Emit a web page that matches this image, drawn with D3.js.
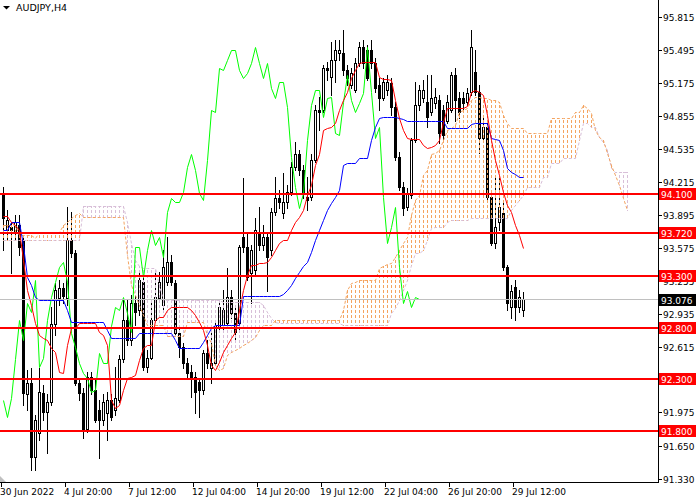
<!DOCTYPE html>
<html>
<head>
<meta charset="utf-8">
<script src="https://cdn.jsdelivr.net/npm/d3@7"></script>
<style>
body { margin: 0; background: #fff; }
svg { display: block; }
.lbl { font: 9px 'DejaVu Sans', sans-serif; }
</style>
</head>
<body>
<svg id="chart" width="700" height="500"></svg>
<script>

// AUDJPY H4 candles, one entry per bar
var open = [94.11,93.75,93.78,93.72,93.80,93.65,92.15,92.26,91.54,91.78,
  92.16,91.98,92.08,92.83,93.09,93.18,93.09,93.65,93.52,92.26,
  92.16,91.81,92.32,92.19,92.00,91.90,91.97,92.10,92.00,92.10,
  92.49,92.87,92.68,93.04,92.97,93.24,92.42,92.50,92.87,93.09,
  93.02,93.24,93.44,93.23,92.75,92.61,92.46,92.37,92.32,92.27,
  92.19,92.55,92.41,92.46,92.81,92.82,92.84,93.10,92.94,92.84,
  93.68,93.58,93.33,93.36,93.73,93.60,93.68,93.55,93.92,94.06,
  93.91,94.02,94.12,94.36,94.48,94.33,94.07,94.07,94.43,94.91,
  94.91,95.32,95.23,95.40,95.47,95.47,95.30,95.15,95.11,95.37,
  95.52,95.49,95.49,95.37,95.15,95.03,95.11,95.17,94.94,94.46,
  94.16,93.97,94.09,94.62,94.96,95.03,94.99,94.89,94.98,95.01,
  94.91,94.81,94.91,95.25,95.03,95.03,94.99,95.09,95.28,95.09,
  94.64,94.75,94.07,93.62,93.82,93.91,93.39,93.00,93.19,93.00,
  92.97];
var high = [94.16,93.94,93.82,93.89,93.89,93.68,92.39,92.41,91.95,92.41,
  92.24,92.15,93.00,93.23,93.26,93.23,93.97,93.92,93.55,92.31,
  92.21,92.37,92.37,92.31,92.10,92.15,92.17,92.15,92.42,92.53,
  93.07,93.07,93.12,93.12,93.34,93.31,92.58,93.07,93.36,93.34,
  93.55,93.68,93.50,93.26,92.81,92.65,92.50,92.44,92.37,92.31,
  92.58,92.68,92.78,92.87,93.07,93.16,93.38,93.16,92.99,93.60,
  94.25,93.73,93.60,93.86,93.97,93.80,93.73,93.96,94.26,94.14,
  94.30,94.18,94.41,94.60,94.52,94.38,94.26,94.48,94.96,95.04,
  95.35,95.38,95.57,95.59,95.59,95.69,95.35,95.32,95.42,95.57,
  95.59,95.54,95.59,95.42,95.22,95.22,95.25,95.22,94.99,94.50,
  94.21,94.15,94.64,95.18,95.15,95.20,95.25,95.25,95.13,95.06,
  94.96,95.06,95.28,95.32,95.09,95.09,95.13,95.69,95.49,95.15,
  94.83,94.81,94.12,94.26,94.26,94.04,93.41,93.21,93.26,93.16,
  93.14];
var low = [93.55,93.65,93.33,93.65,93.50,92.05,92.00,91.42,91.42,91.71,
  91.90,91.58,92.05,92.73,93.02,93.04,93.02,93.48,92.24,92.10,
  91.73,91.79,92.15,91.88,91.53,91.85,91.71,91.90,91.95,92.08,
  92.47,92.63,92.63,92.82,92.92,92.39,92.37,92.49,92.85,93.07,
  92.97,93.21,93.21,92.73,92.51,92.41,92.31,92.13,91.97,91.93,
  92.15,92.41,92.26,92.44,92.78,92.78,92.82,92.89,92.68,92.78,
  93.53,93.26,93.04,93.31,93.55,93.55,93.15,93.50,93.89,93.96,
  93.86,93.96,94.09,94.33,94.28,94.06,93.94,94.04,94.41,94.72,
  94.89,95.20,95.06,95.18,95.40,95.25,95.15,95.13,95.09,95.34,
  95.32,95.20,95.32,95.09,94.91,95.01,95.06,94.86,94.43,94.14,
  93.89,93.94,94.06,94.60,94.91,94.99,94.75,94.86,94.93,94.59,
  94.62,94.79,94.89,94.81,94.83,94.91,94.96,95.06,95.06,94.49,
  94.60,94.04,93.60,93.57,93.75,93.36,92.97,92.89,92.87,92.95,
  92.91];
var close = [93.86,93.84,93.75,93.82,93.58,92.16,92.26,91.54,91.90,92.17,
  91.98,92.08,92.83,93.16,93.18,93.11,93.65,93.52,92.26,92.16,
  91.81,92.32,92.19,91.90,91.90,92.08,92.10,91.93,92.12,92.49,
  92.87,92.68,93.04,92.95,93.26,92.42,92.50,92.87,93.10,93.24,
  93.39,93.44,93.24,92.75,92.61,92.46,92.36,92.31,92.17,92.19,
  92.55,92.46,92.46,92.81,93.00,92.97,93.10,92.94,92.76,93.58,
  93.58,93.29,93.55,93.75,93.60,93.68,93.48,93.92,94.06,94.02,
  94.02,94.12,94.36,94.48,94.33,94.11,94.04,94.43,94.91,94.89,
  95.32,95.30,95.40,95.49,95.49,95.30,95.22,95.27,95.37,95.52,
  95.37,95.22,95.37,95.13,95.03,95.18,95.18,94.94,94.46,94.16,
  93.96,94.11,94.62,94.96,95.11,95.11,94.84,95.03,95.04,94.69,
  94.67,94.99,95.25,95.01,94.89,94.98,95.08,95.52,95.09,94.64,
  94.75,94.07,93.62,93.78,93.97,93.39,93.04,93.15,93.00,93.10,
  93.076];

// Ichimoku lines
var tenkan = [93.88,93.88,93.82,93.80,93.75,93.46,93.16,93.02,92.84,92.73,
  92.70,92.68,92.60,92.56,92.37,92.36,92.63,92.80,92.80,92.84,
  92.84,92.84,92.84,92.84,92.76,92.73,92.63,92.10,92.02,92.05,
  92.19,92.31,92.32,92.34,92.48,92.60,92.63,92.63,92.87,92.90,
  92.90,92.97,93.00,93.00,93.00,93.00,93.00,92.97,92.92,92.85,
  92.78,92.63,92.44,92.39,92.47,92.56,92.63,92.70,92.76,92.97,
  93.16,93.31,93.41,93.41,93.43,93.43,93.44,93.48,93.55,93.62,
  93.65,93.65,93.75,93.82,93.87,93.94,94.09,94.18,94.38,94.48,
  94.72,94.74,94.75,94.79,94.91,95.01,95.09,95.22,95.30,95.37,
  95.38,95.38,95.38,95.38,95.23,95.21,95.21,95.20,95.01,94.83,
  94.72,94.64,94.63,94.63,94.63,94.57,94.54,94.55,94.57,94.62,
  94.80,94.93,94.93,94.93,94.93,94.93,94.95,95.09,95.11,95.09,
  95.06,94.86,94.62,94.43,94.28,94.12,93.99,93.92,93.80,93.70,
  93.57];
var kijun = [93.75,93.75,93.82,93.82,93.82,93.60,93.29,93.21,93.10,93.07,
  93.07,93.07,93.07,93.07,93.07,93.07,92.97,92.85,92.85,92.85,
  92.85,92.85,92.85,92.85,92.85,92.85,92.78,92.70,92.70,92.70,
  92.70,92.70,92.70,92.70,92.75,92.75,92.75,92.75,92.75,92.75,
  92.75,92.75,92.75,92.68,92.60,92.60,92.60,92.60,92.60,92.60,
  92.66,92.73,92.80,92.82,92.82,92.82,92.82,92.82,92.82,92.82,
  93.11,93.11,93.11,93.11,93.11,93.11,93.11,93.11,93.11,93.11,
  93.13,93.16,93.21,93.28,93.34,93.40,93.44,93.53,93.65,93.75,
  93.84,93.94,94.01,94.07,94.14,94.38,94.40,94.40,94.40,94.45,
  94.45,94.45,94.62,94.75,94.83,94.84,94.84,94.84,94.84,94.83,
  94.82,94.81,94.81,94.81,94.81,94.81,94.81,94.81,94.81,94.81,
  94.81,94.74,94.74,94.74,94.74,94.74,94.74,94.78,94.79,94.79,
  94.79,94.79,94.64,94.63,94.62,94.52,94.35,94.31,94.29,94.26,
  94.26];
// cloud, already shifted 26 bars forward (157 positions)
var spanA = [93.80,93.80,93.80,93.80,93.70,93.70,93.70,93.70,93.67,93.73,
  93.73,93.73,93.73,93.73,93.73,93.80,93.82,93.86,93.89,93.91,
  93.87,93.87,93.87,93.87,93.87,93.87,93.87,93.87,93.87,93.87,
  93.87,93.50,93.21,93.12,93.02,92.92,92.82,92.82,92.82,92.82,
  92.82,92.72,92.72,92.72,92.72,92.72,92.85,92.85,92.85,92.85,
  92.85,92.73,92.65,92.44,92.39,92.41,92.53,92.56,92.58,92.60,
  92.63,92.65,92.68,92.71,92.78,92.82,92.82,92.82,92.87,92.87,
  92.87,92.87,92.87,92.87,92.87,92.87,92.87,92.87,92.87,92.87,
  92.87,92.87,92.87,92.87,92.87,92.97,93.16,93.23,93.24,93.26,
  93.26,93.26,93.26,93.26,93.38,93.40,93.42,93.43,93.48,93.55,
  93.62,93.68,93.89,94.04,94.09,94.28,94.33,94.48,94.49,94.52,
  94.62,94.72,94.74,94.77,94.89,94.91,94.93,95.01,95.04,95.04,
  95.03,95.03,95.01,95.01,94.99,94.86,94.79,94.74,94.74,94.74,
  94.74,94.69,94.69,94.69,94.69,94.69,94.69,94.83,94.83,94.83,
  94.83,94.83,94.83,94.89,94.89,94.96,94.93,94.88,94.72,94.65,
  94.62,94.49,94.38,94.28,94.18,94.06,93.94];
var spanB = [93.65,93.65,93.65,93.65,93.65,93.65,93.65,93.65,93.65,93.65,
  93.65,93.65,93.65,93.65,93.65,93.65,93.65,93.65,93.65,93.65,
  93.98,93.98,93.98,93.98,93.98,93.98,93.98,93.98,93.98,93.98,
  93.98,93.82,93.62,93.46,93.40,93.38,93.38,93.38,93.38,93.21,
  93.07,93.07,93.07,93.07,93.07,93.07,93.07,93.07,93.07,93.07,
  93.07,93.07,93.07,93.07,93.07,93.05,93.05,93.05,93.05,93.05,
  93.05,93.05,93.05,93.05,93.05,93.02,92.95,92.89,92.85,92.84,
  92.84,92.84,92.84,92.84,92.84,92.84,92.84,92.84,92.84,92.84,
  92.84,92.84,92.84,92.84,92.84,92.82,92.82,92.82,92.82,92.82,
  92.82,92.82,92.82,92.82,92.82,92.82,92.82,92.94,92.99,93.07,
  93.16,93.26,93.41,93.52,93.52,93.55,93.65,93.77,93.78,93.78,
  93.78,93.82,93.84,93.84,93.84,93.84,93.84,93.86,93.86,93.86,
  93.86,93.86,93.86,93.86,93.86,93.86,93.86,93.94,93.99,94.04,
  94.09,94.16,94.16,94.16,94.16,94.26,94.26,94.40,94.40,94.40,
  94.45,94.45,94.45,94.45,94.62,94.79,94.79,94.75,94.75,94.65,
  94.60,94.52,94.35,94.31,94.31,94.31,94.31];
var chikouShift = 26;

var symbol = "AUDJPY,H4";
var levels = [94.10, 93.72, 93.30, 92.80, 92.30, 91.80];
var lastPrice = 93.076;
var priceTicks = [95.815, 95.495, 95.175, 94.855, 94.535, 94.215, 93.895, 93.575,
  93.255, 92.935, 92.615, 91.975, 91.650, 91.330];
var timeBars = [0, 16, 32, 48, 64, 80, 96, 112, 128];
var timeLabels = ["30 Jun 2022", "4 Jul 20:00", "7 Jul 12:00", "12 Jul 04:00",
  "14 Jul 20:00", "19 Jul 12:00", "22 Jul 04:00", "26 Jul 20:00", "29 Jul 12:00"];

var W = 658, H = 482;
var svg = d3.select("#chart");

// 4px per bar, bar centre = band start + 2
var x = d3.scaleBand().domain(d3.range(165)).range([1, 661]);
function cx(i) { return x(i) + x.bandwidth() / 2; }
var y = d3.scaleLinear().domain([91.30, 95.98]).range([H, 0]);
function py(v) { return Math.round(y(v)) + 0.5; }

svg.append("rect").attr("width", 700).attr("height", 500).attr("fill", "#fff");
svg.append("clipPath").attr("id", "clip")
  .append("rect").attr("width", W).attr("height", H);

var g = svg.append("g").attr("clip-path", "url(#clip)");

// candles
var bars = d3.range(close.length);
g.selectAll(".wick").data(bars).enter().append("line")
  .attr("x1", function(i) { return cx(i) + 0.5; })
  .attr("x2", function(i) { return cx(i) + 0.5; })
  .attr("y1", function(i) { return Math.round(y(high[i])); })
  .attr("y2", function(i) { return Math.round(y(low[i])) + 1; })
  .attr("stroke", "#000")
  .attr("shape-rendering", "crispEdges");
g.selectAll(".body").data(bars).enter().append("rect")
  .attr("x", function(i) { return cx(i) - 0.5; })
  .attr("width", 2)
  .attr("y", function(i) { return Math.round(y(Math.max(open[i], close[i]))) + 0.5; })
  .attr("height", function(i) {
    return Math.max(1, Math.round(y(Math.min(open[i], close[i]))) - Math.round(y(Math.max(open[i], close[i]))));
  })
  .attr("fill", function(i) { return close[i] >= open[i] ? "#fff" : "#000"; })
  .attr("stroke", "#000")
  .attr("shape-rendering", "crispEdges");

// kumo hatching, dashes aligned to the pixel grid
var cloud = d3.range(spanA.length);
g.selectAll(".hatch").data(cloud).enter().append("line")
  .attr("x1", function(j) { return cx(j) + 0.5; })
  .attr("x2", function(j) { return cx(j) + 0.5; })
  .attr("y1", function(j) { return Math.round(y(Math.max(spanA[j], spanB[j]))); })
  .attr("y2", function(j) { return Math.round(y(Math.min(spanA[j], spanB[j]))) + 1; })
  .attr("stroke", function(j) { return spanA[j] >= spanB[j] ? "#F4A460" : "#D8BFD8"; })
  .attr("stroke-dasharray", "3,2")
  .attr("stroke-dashoffset", function(j) { return Math.round(y(Math.max(spanA[j], spanB[j]))) % 5; })
  .attr("shape-rendering", "crispEdges");

var line = d3.line()
  .x(function(d, j) { return cx(j) + 0.5; })
  .y(function(d) { return py(d); });

g.append("path").attr("d", line(spanB)).attr("fill", "none")
  .attr("stroke", "#D8BFD8").attr("stroke-dasharray", "3,2");
g.append("path").attr("d", line(spanA)).attr("fill", "none")
  .attr("stroke", "#F4A460").attr("stroke-dasharray", "3,2");

// chikou: closes drawn 26 bars back
var chikou = close.slice(chikouShift);
g.append("path").attr("d", line(chikou)).attr("fill", "none").attr("stroke", "#00FF00");
g.append("path").attr("d", line(kijun)).attr("fill", "none").attr("stroke", "#0000FF");
g.append("path").attr("d", line(tenkan)).attr("fill", "none").attr("stroke", "#FF0000");

// bid line
svg.append("line").attr("x1", 0).attr("x2", W)
  .attr("y1", py(lastPrice)).attr("y2", py(lastPrice))
  .attr("stroke", "#C0C0C0");

// horizontal levels
svg.selectAll(".level").data(levels).enter().append("line")
  .attr("x1", 0).attr("x2", W)
  .attr("y1", function(d) { return Math.round(y(d)); })
  .attr("y2", function(d) { return Math.round(y(d)); })
  .attr("stroke", "#FF0000").attr("stroke-width", 2);

// axes
svg.append("line").attr("x1", W + 0.5).attr("x2", W + 0.5).attr("y1", 0).attr("y2", H + 1)
  .attr("stroke", "#000");
svg.append("line").attr("x1", 0).attr("x2", W + 1).attr("y1", H + 0.5).attr("y2", H + 0.5)
  .attr("stroke", "#000");

svg.selectAll(".ptick").data(priceTicks).enter().append("line")
  .attr("x1", W).attr("x2", W + 4)
  .attr("y1", function(d) { return py(d); }).attr("y2", function(d) { return py(d); })
  .attr("stroke", "#000");
svg.selectAll(".plabel").data(priceTicks).enter().append("text")
  .attr("class", "lbl")
  .attr("x", W + 5).attr("y", function(d) { return Math.round(y(d)) + 3.5; })
  .text(function(d) { return d.toFixed(3); });

svg.selectAll(".ttick").data(timeBars).enter().append("line")
  .attr("x1", function(d) { return x(d) + 0.5; }).attr("x2", function(d) { return x(d) + 0.5; })
  .attr("y1", H).attr("y2", H + 5)
  .attr("stroke", "#000");
svg.selectAll(".tlabel").data(timeBars).enter().append("text")
  .attr("class", "lbl")
  .attr("x", function(d) { return x(d) - 1; }).attr("y", 495)
  .text(function(d, k) { return timeLabels[k]; });

// level tags on price scale
var tags = svg.selectAll(".tag").data(levels).enter().append("g");
tags.append("rect")
  .attr("x", W + 1).attr("width", 37)
  .attr("y", function(d) { return Math.round(y(d)) - 6; }).attr("height", 12)
  .attr("fill", "#FF0000");
tags.append("text").attr("class", "lbl").attr("fill", "#fff")
  .attr("x", W + 3).attr("y", function(d) { return Math.round(y(d)) + 3.5; })
  .text(function(d) { return d.toFixed(3); });

svg.append("rect").attr("x", W + 1).attr("width", 37)
  .attr("y", Math.round(y(lastPrice)) - 5).attr("height", 12).attr("fill", "#000");
svg.append("text").attr("class", "lbl").attr("fill", "#fff")
  .attr("x", W + 3).attr("y", Math.round(y(lastPrice)) + 4.5)
  .text(lastPrice.toFixed(3));

// title and corner markers
svg.append("path").attr("d", "M3,6 L10,6 L6.5,9.5 Z").attr("fill", "#000");
svg.append("text").attr("x", 16).attr("y", 11)
  .style("font", "9.5px 'DejaVu Sans', sans-serif").attr("fill", "#000")
  .text(symbol);
svg.append("path").attr("d", "M0,476 L0,482 L6,482 Z").attr("fill", "#C0C0C0");

</script>
</body>
</html>
